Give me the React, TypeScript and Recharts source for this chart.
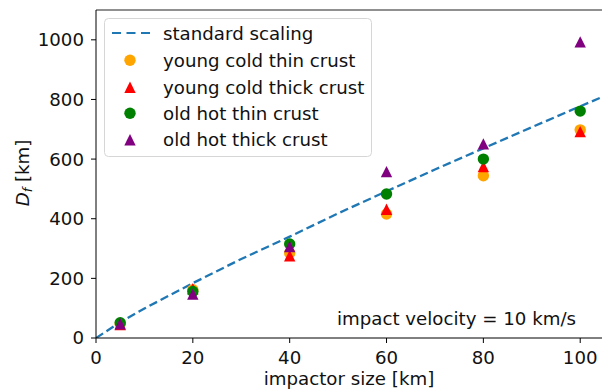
import React from 'react';
import { ComposedChart, Line, Scatter, XAxis, YAxis, ReferenceLine, Legend } from 'recharts';

const sizes = [5, 20, 40, 60, 80, 100];
const youngColdThin = [47, 162, 285, 416, 544, 698];
const youngColdThick = [45, 165, 276, 432, 575, 692];
const oldHotThin = [51, 156, 315, 483, 600, 761];
const oldHotThick = [48, 147, 307, 558, 651, 993];

const scalingX = [0, 5, 10, 20, 30, 40, 50, 60, 70, 80, 90, 100, 104.5];
const scalingY = [0, 53, 99, 184, 265, 340, 418, 492, 565, 636, 707, 777, 808];

const xTicks = [0, 20, 40, 60, 80, 100];
const yTicks = [0, 200, 400, 600, 800, 1000];

const seriesNames = ['standard scaling', 'young cold thin crust', 'young cold thick crust', 'old hot thin crust', 'old hot thick crust'];

const FONT = 'DejaVu Sans';
const FS = 18.2;
const TXT = '#111';

const lineData = scalingX.map((x, i) => ({ x, y: scalingY[i] }));
const mk = (vals: number[]) => sizes.map((x, i) => ({ x, y: vals[i] }));

const series = [
  { name: seriesNames[1], data: mk(youngColdThin), color: '#ffa500', kind: 'circle' },
  { name: seriesNames[2], data: mk(youngColdThick), color: '#ff0000', kind: 'triangle' },
  { name: seriesNames[3], data: mk(oldHotThin), color: '#008000', kind: 'circle' },
  { name: seriesNames[4], data: mk(oldHotThick), color: '#800080', kind: 'triangle' },
];

const Marker = ({ cx, cy, color, kind }: any) => {
  if (cx == null || cy == null) return null;
  if (kind === 'circle') return <circle cx={cx} cy={cy} r={5.7} fill={color} />;
  const h = 5.7;
  return <polygon points={`${cx},${cy - h} ${cx - h},${cy + h} ${cx + h},${cy + h}`} fill={color} />;
};

const LegendBox = () => {
  const rowY = [15, 42.2, 69.2, 95.2, 121.7];
  return (
    <svg width={268} height={140} style={{ display: 'block' }}>
      <rect x={0.5} y={0.5} width={267} height={138} rx={4} ry={4} fill="#fff" fillOpacity={0.8} stroke="#d6d6d6" strokeWidth={1} />
      <line x1={8} x2={46} y1={rowY[0]} y2={rowY[0]} stroke="#1f77b4" strokeWidth={2.2} strokeDasharray="9 5.5" />
      {series.map((s, i) => (
        <Marker key={s.name} cx={26} cy={rowY[i + 1]} color={s.color} kind={s.kind} />
      ))}
      {seriesNames.map((n, i) => (
        <text key={n} x={59} y={rowY[i]} dy="0.36em" fontFamily={FONT} fontSize={FS} fill={TXT}>{n}</text>
      ))}
    </svg>
  );
};

export default function App() {
  return (
    <div style={{ position: 'absolute', left: 0, top: 0, width: 602, height: 391 }}>
      <ComposedChart width={602} height={391} margin={{ top: 10, right: 0, bottom: 0, left: 0 }}>
        <XAxis
          type="number"
          dataKey="x"
          domain={[0, 104.5]}
          ticks={xTicks}
          allowDataOverflow
          height={53}
          tickSize={5}
          tickMargin={8}
          stroke="#000"
          tick={{ fontSize: FS, fontFamily: FONT, fill: TXT }}
        />
        <YAxis
          type="number"
          dataKey="y"
          domain={[0, 1100]}
          ticks={yTicks}
          allowDataOverflow
          width={96}
          tickSize={5}
          tickMargin={7}
          stroke="#000"
          tick={{ fontSize: FS, fontFamily: FONT, fill: TXT }}
        />
        <ReferenceLine y={1100} stroke="#222" strokeWidth={1.2} ifOverflow="extendDomain" />
        <Line
          data={lineData}
          dataKey="y"
          type="linear"
          stroke="#1f77b4"
          strokeWidth={2.3}
          strokeDasharray="8.5 4"
          dot={false}
          activeDot={false}
          isAnimationActive={false}
          legendType="none"
        />
        {series.map((s) => (
          <Scatter
            key={s.name}
            name={s.name}
            data={s.data}
            dataKey="y"
            fill={s.color}
            isAnimationActive={false}
            shape={(p: any) => <Marker cx={p.cx} cy={p.cy} color={s.color} kind={s.kind} />}
          />
        ))}
        <Legend
          layout="vertical"
          align="center"
          verticalAlign="middle"
          content={() => <LegendBox />}
          wrapperStyle={{ position: 'absolute', left: 104, top: 18, width: 268, height: 140 }}
        />
      </ComposedChart>
      <svg width={602} height={391} style={{ position: 'absolute', left: 0, top: 0, pointerEvents: 'none' }}>
        <text x={576} y={325} textAnchor="end" fontFamily={FONT} fontSize={FS} fill={TXT}>impact velocity = 10 km/s</text>
        <text x={349} y={385} textAnchor="middle" fontFamily={FONT} fontSize={FS} fill={TXT}>impactor size [km]</text>
        <text x={29} y={173} textAnchor="middle" transform="rotate(-90 29 173)" fontFamily={FONT} fontSize={FS} fill={TXT}>
          <tspan fontStyle="italic">D</tspan>
          <tspan fontStyle="italic" fontSize={FS * 0.7} dy={3}>f</tspan>
          <tspan dy={-3}> [km]</tspan>
        </text>
      </svg>
    </div>
  );
}
